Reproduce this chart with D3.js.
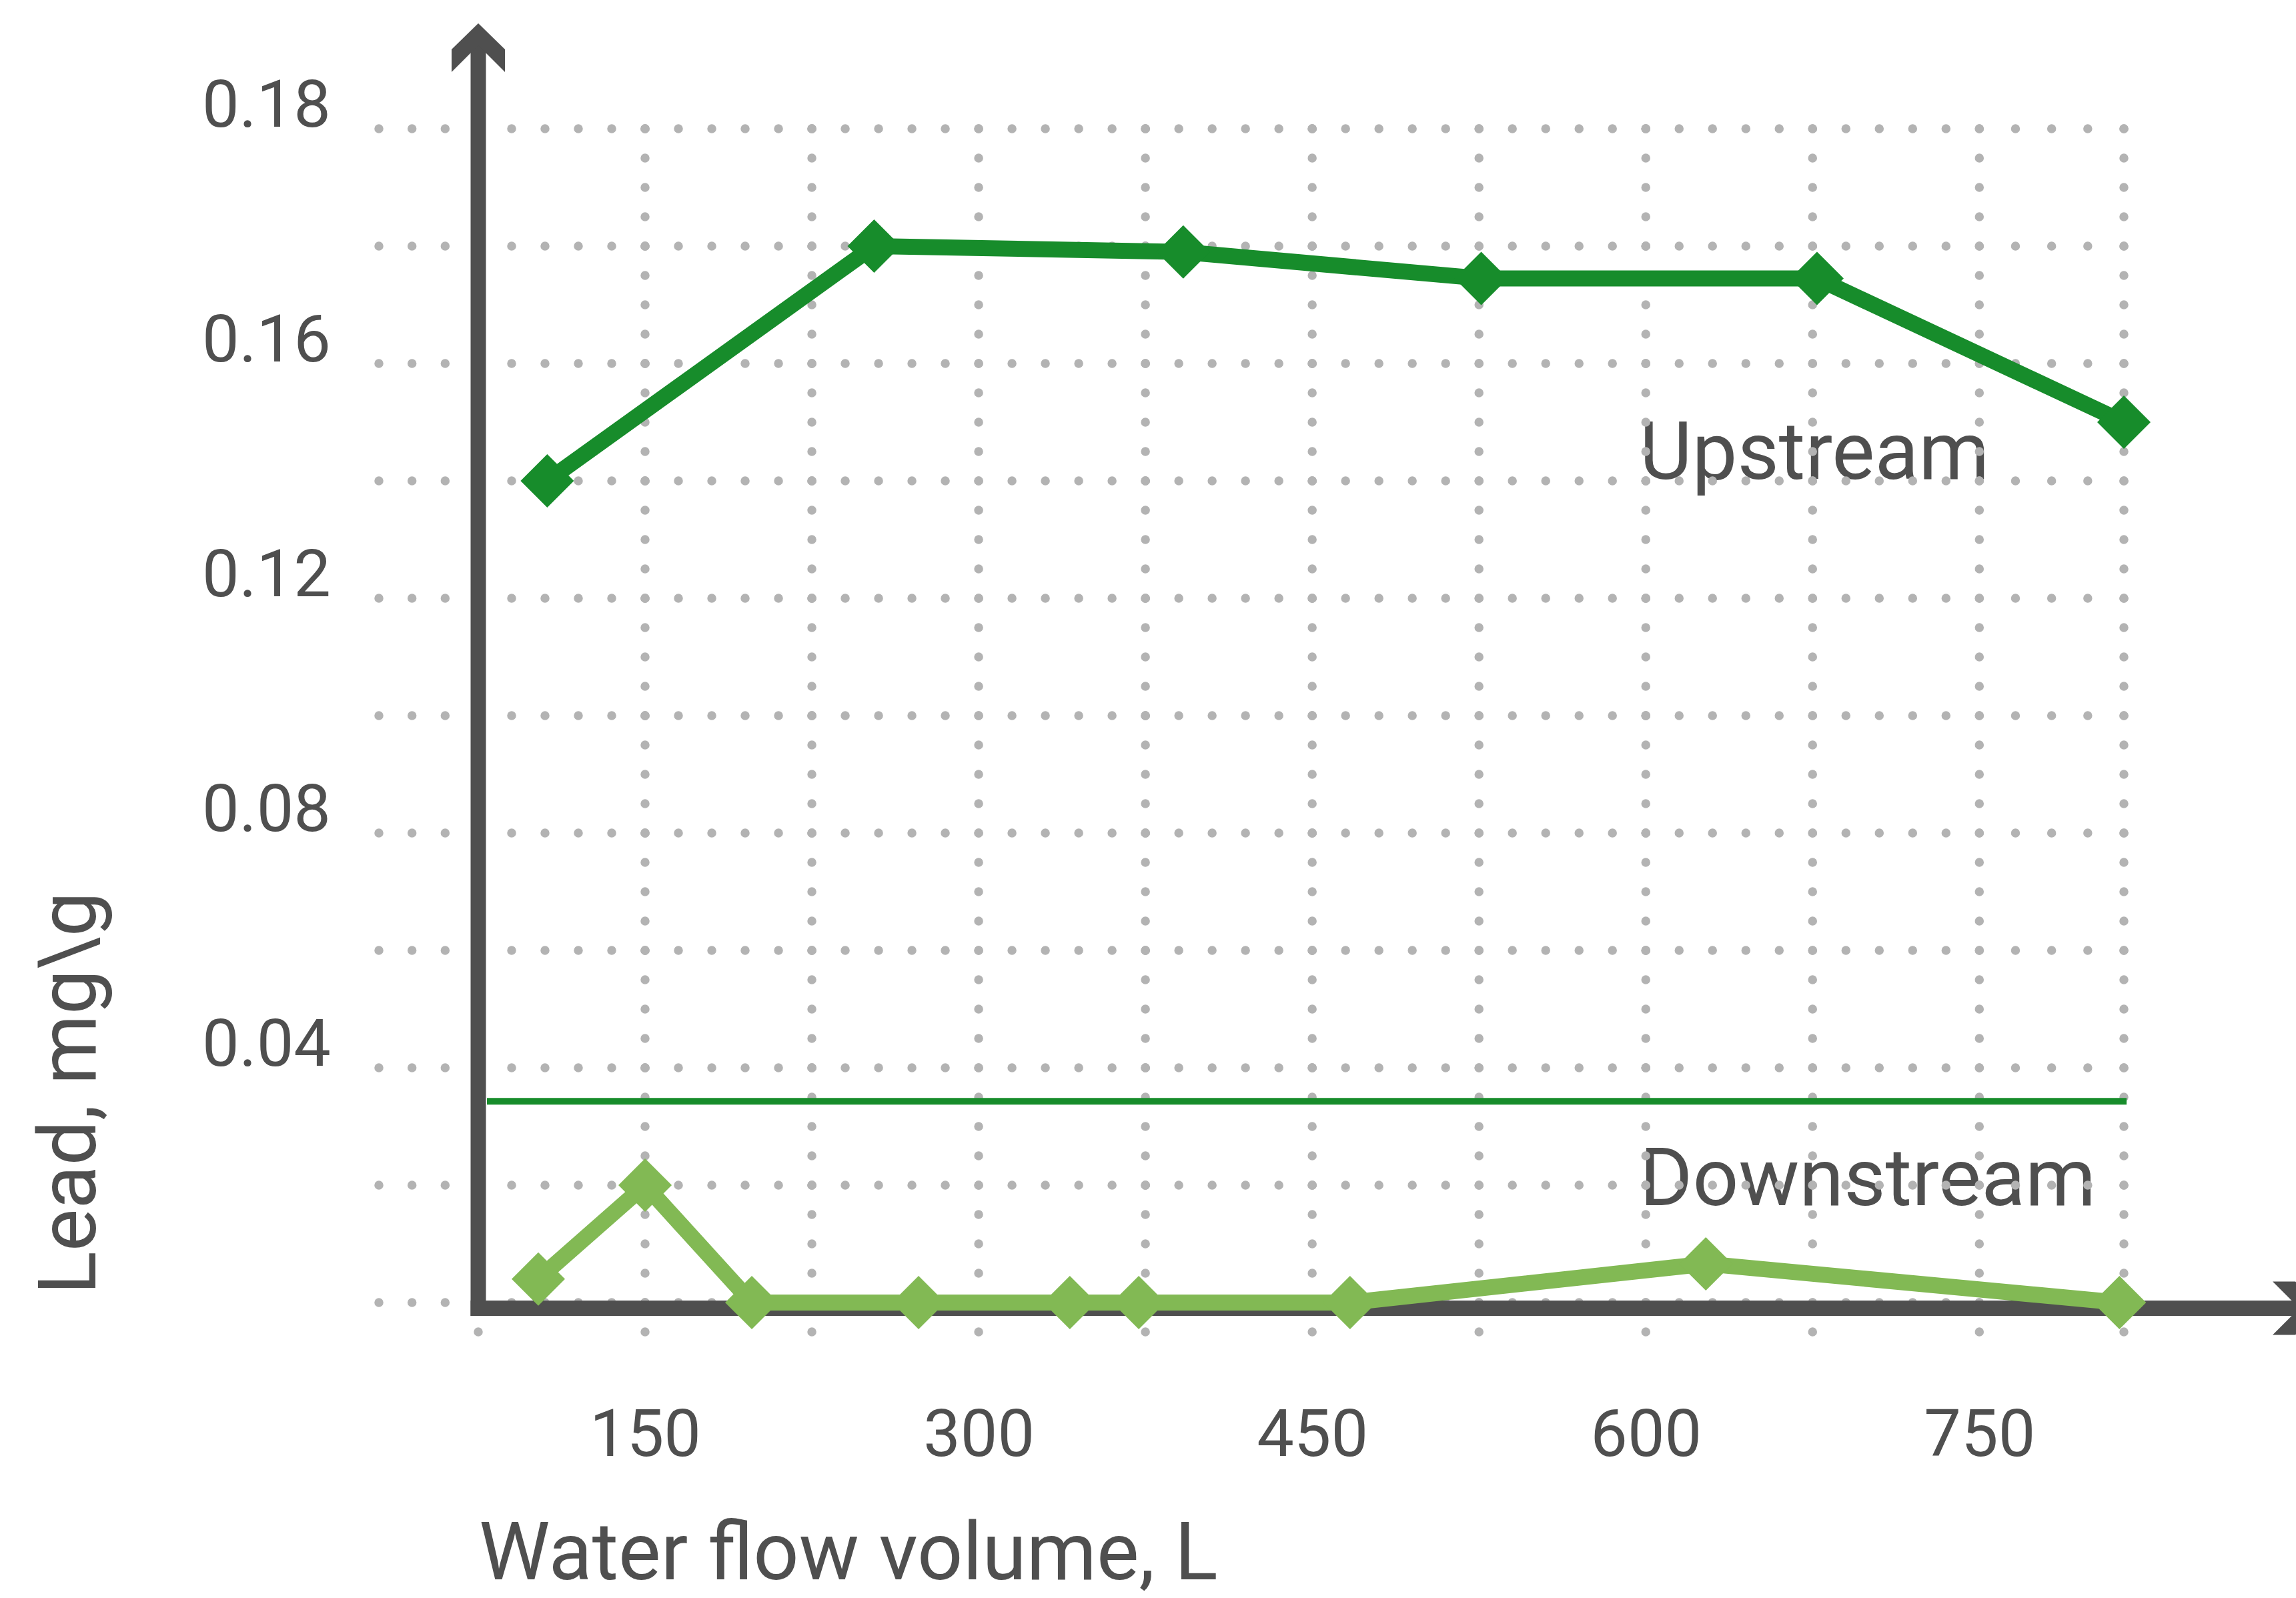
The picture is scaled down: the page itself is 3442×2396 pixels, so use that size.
<!DOCTYPE html>
<html>
<head>
<meta charset="utf-8">
<script src="https://cdn.jsdelivr.net/npm/d3@7"></script>
<style>
  html, body { margin: 0; padding: 0; background: #ffffff; }
  svg { display: block; }
  text { font-family: Roboto, "Noto Sans", sans-serif; fill: #4f4f4f; }
</style>
</head>
<body>
<script>
// ---------------- data ----------------
const seriesNames = ["Upstream", "Downstream"];
const upstreamX = [106, 253, 392, 526, 677, 815];
const upstreamLead = [0.14, 0.18, 0.179, 0.1745, 0.1745, 0.15];
const downstreamX = [102, 150, 198, 273, 341, 372, 467, 627, 813];
const downstreamLead = [0.004, 0.02, 0, 0, 0, 0, 0, 0.0066, 0];
const referenceLevel = 0.0343;
const xTickValues = [150, 300, 450, 600, 750];
const xTickLabels = ["150", "300", "450", "600", "750"];
const yTickValues = [0.04, 0.08, 0.12, 0.16, 0.20];
const yTickLabels = ["0.04", "0.08", "0.12", "0.16", "0.18"];
const xGridValues = [75, 150, 225, 300, 375, 450, 525, 600, 675, 750, 815];
const yGridValues = [0, 0.02, 0.04, 0.06, 0.08, 0.10, 0.12, 0.14, 0.16, 0.18, 0.20];
const xTitle = "Water flow volume, L";
const yTitle = "Lead, mg\\g";

// ---------------- layout ----------------
const W = 3442, H = 2396;
const AXIS = "#4f4f4f", GRID = "#b3b3b3";
const C_UP = "#178c2b", C_DOWN = "#82b954";

const x = d3.scaleLinear().domain([75, 815]).range([717, 3184]);
const y = d3.scaleLinear().domain([0, 0.2]).range([1953, 193]);

const svg = d3.select("body").append("svg")
  .attr("width", W).attr("height", H).attr("viewBox", `0 0 ${W} ${H}`);

// series labels (beneath the dotted grid, as in the reference)
const labels = svg.append("g").attr("font-size", 121);
labels.append("text").attr("x", 2458).attr("y", 718).text(seriesNames[0]);
labels.append("text").attr("x", 2458).attr("y", 1807).text(seriesNames[1]);

// ---------------- dotted grid ----------------
const grid = svg.append("g").attr("stroke", GRID).attr("stroke-width", 13.5)
  .attr("stroke-linecap", "round").attr("fill", "none");
const gridLeft = x(75) - 149;
const colPx = xGridValues.map(v => x(v));
const segBounds = [gridLeft].concat(colPx);
yGridValues.forEach(v => {
  for (let i = 0; i < segBounds.length - 1; i++) {
    const a = segBounds[i], b = segBounds[i + 1];
    const n = Math.max(1, Math.round((b - a) / 50));
    grid.append("line")
      .attr("x1", a).attr("x2", b).attr("y1", y(v)).attr("y2", y(v))
      .attr("stroke-dasharray", `0 ${(b - a) / n}`);
  }
});
const colBottom = y(0) + 88;
xGridValues.forEach(v => {
  grid.append("line")
    .attr("x1", x(v)).attr("x2", x(v))
    .attr("y1", y(0.2)).attr("y2", colBottom)
    .attr("stroke-dasharray", `0 ${(y(0) - y(0.2)) / 40}`);
});

// reference level line
svg.append("line")
  .attr("x1", x(75) + 13).attr("x2", x(815) + 4)
  .attr("y1", y(referenceLevel)).attr("y2", y(referenceLevel))
  .attr("stroke", C_UP).attr("stroke-width", 10);

// ---------------- axes (arrows) ----------------
const ax = svg.append("g").attr("fill", AXIS);
const axX = x(75);            // y-axis centre
const axY = y(0) + 8.5;       // x-axis centre
const th = 23;
// y axis shaft and head
const tipY = 35;
ax.append("rect").attr("x", axX - th / 2).attr("y", tipY + 30)
  .attr("width", th).attr("height", axY + th / 2 - tipY - 30);
ax.append("path").attr("d",
  `M${axX},${tipY} L${axX + 40},${tipY + 39} L${axX + 40},${tipY + 73} L${axX},${tipY + 33} L${axX - 40},${tipY + 73} L${axX - 40},${tipY + 39} Z`);
// x axis shaft and head
const tipX = 3480;
ax.append("rect").attr("x", axX - th / 2).attr("y", axY - th / 2)
  .attr("width", tipX - 30 - axX + th / 2).attr("height", th);
ax.append("path").attr("d",
  `M${tipX},${axY} L${tipX - 39},${axY + 40} L${tipX - 73},${axY + 40} L${tipX - 33},${axY} L${tipX - 73},${axY - 40} L${tipX - 39},${axY - 40} Z`);

// tick labels through d3 axes
const xAxis = d3.axisBottom(x).tickValues(xTickValues)
  .tickFormat((d, i) => xTickLabels[i]).tickSize(0);
const gx = svg.append("g").attr("transform", `translate(0,${y(0)})`).call(xAxis);
gx.select(".domain").remove();
gx.selectAll("text").attr("y", 230).attr("dy", 0)
  .attr("font-size", 99).attr("font-family", "Roboto").attr("fill", "#4f4f4f");

const yAxis = d3.axisLeft(y).tickValues(yTickValues)
  .tickFormat((d, i) => yTickLabels[i]).tickSize(0).tickPadding(221);
const gy = svg.append("g").attr("transform", `translate(${axX},0)`).call(yAxis);
gy.select(".domain").remove();
gy.selectAll("text").attr("dy", -4)
  .attr("font-size", 99).attr("font-family", "Roboto").attr("fill", "#4f4f4f");

// axis titles
svg.append("text").attr("x", 718).attr("y", 2368).attr("font-size", 120).text(xTitle);
svg.append("text").attr("transform", "translate(143,1941) rotate(-90)")
  .attr("font-size", 120).text(yTitle);

// ---------------- series ----------------
const up = upstreamX.map((v, i) => ({ x: v, v: upstreamLead[i] }));
const down = downstreamX.map((v, i) => ({ x: v, v: downstreamLead[i] }));
const line = d3.line().x(d => x(d.x)).y(d => y(d.v));
const diamond = d3.symbol(d3.symbolSquare, 3200);

[[up, C_UP], [down, C_DOWN]].forEach(([data, col]) => {
  const g = svg.append("g");
  g.append("path").attr("d", line(data)).attr("fill", "none")
    .attr("stroke", col).attr("stroke-width", 24).attr("stroke-linejoin", "round");
  g.selectAll("path.m").data(data).enter().append("path").attr("class", "m")
    .attr("d", diamond).attr("fill", col)
    .attr("transform", d => `translate(${x(d.x)},${y(d.v)}) rotate(45)`);
});
</script>
</body>
</html>
